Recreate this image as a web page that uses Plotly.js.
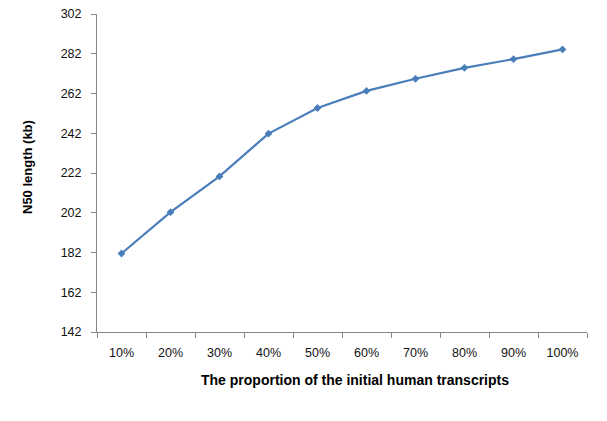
<!DOCTYPE html>
<html>
<head>
<meta charset="utf-8">
<script src="https://cdn.plot.ly/plotly-3.0.1.min.js"></script>
<style>html,body{margin:0;padding:0;background:#fff;}#chart{width:607px;height:421px;}</style>
</head>
<body>
<div id="chart"></div>
<script>
const categories = ["10%","20%","30%","40%","50%","60%","70%","80%","90%","100%"];
const n50Values = [181.5, 202.3, 220.3, 241.8, 254.7, 263.3, 269.4, 274.9, 279.3, 284.2];
const yTicks = [142, 162, 182, 202, 222, 242, 262, 282, 302];

const trace = {
  x: categories,
  y: n50Values,
  type: "scatter",
  mode: "lines+markers",
  line: {color: "#4a7ebb", width: 2.2},
  marker: {symbol: "diamond", size: 6, color: "#4a7ebb"},
  hoverinfo: "none"
};

const layout = {
  width: 607, height: 421,
  margin: {l: 97, r: 20, t: 14, b: 89},
  paper_bgcolor: "#ffffff",
  plot_bgcolor: "#ffffff",
  showlegend: false,
  font: {family: "Liberation Sans, Arial, sans-serif", size: 12, color: "#000000"},
  xaxis: {
    type: "category",
    range: [-0.5, 9.5],
    showline: true, linecolor: "#868686", linewidth: 1,
    showgrid: false, zeroline: false,
    ticks: "outside", ticklen: 5, tickcolor: "#868686",
    tickson: "boundaries",
    ticklabelstandoff: 9,
    tickfont: {size: 12.5, color: "#111"}
  },
  yaxis: {
    range: [142, 302],
    tickvals: yTicks,
    ticktext: yTicks.map(String),
    showline: true, linecolor: "#868686", linewidth: 1,
    showgrid: false, zeroline: false,
    ticks: "outside", ticklen: 5, tickcolor: "#868686",
    ticklabelstandoff: 7,
    tickfont: {size: 12.5, color: "#111"}
  },
  annotations: [
    {
      text: "<b>The proportion of the initial human transcripts</b>",
      xref: "paper", yref: "paper",
      x: (355 - 97) / 490, y: (421 - 89 - 380) / 318,
      xanchor: "center", yanchor: "middle",
      showarrow: false,
      font: {size: 14, color: "#000"}
    },
    {
      text: "<b>N50 length (kb)</b>",
      xref: "paper", yref: "paper",
      x: (27 - 97) / 490, y: (332 - 167) / 318,
      xanchor: "center", yanchor: "middle",
      textangle: -90,
      showarrow: false,
      font: {size: 13, color: "#000"}
    }
  ]
};

Plotly.newPlot("chart", [trace], layout, {displayModeBar: false, staticPlot: true});
</script>
</body>
</html>
